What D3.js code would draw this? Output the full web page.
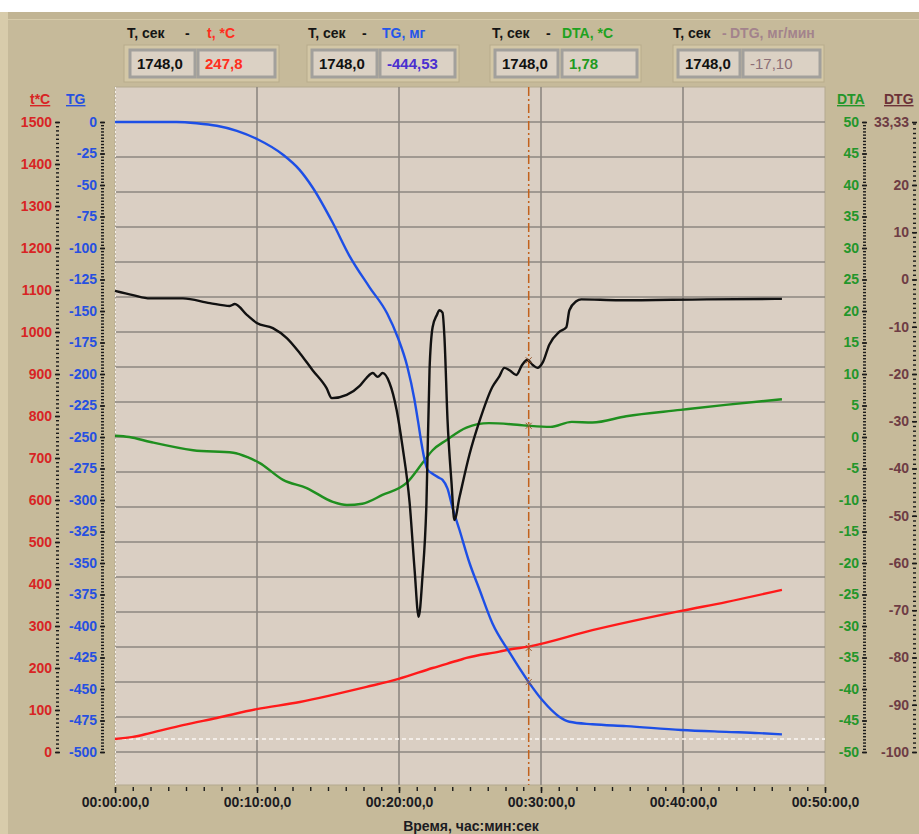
<!DOCTYPE html>
<html>
<head>
<meta charset="utf-8">
<script src="https://cdn.jsdelivr.net/npm/d3@7"></script>
<style>
	body { margin: 0; background: #fff; }
	svg text { font-family: "Liberation Sans", Arial, sans-serif; font-weight: bold; }
</style>
</head>
<body>
<div id="chart"></div>
<script>

// Time axis, seconds
var timeTicks = [0, 600, 1200, 1800, 2400, 3000];
var timeMinorStep = 75;

// Axis tick values
var tempTicks = [0, 100, 200, 300, 400, 500, 600, 700, 800, 900, 1000, 1100, 1200, 1300, 1400, 1500];
var tgTicks = [0, -25, -50, -75, -100, -125, -150, -175, -200, -225, -250, -275, -300, -325, -350, -375, -400, -425, -450, -475, -500];
var dtaTicks = [50, 45, 40, 35, 30, 25, 20, 15, 10, 5, 0, -5, -10, -15, -20, -25, -30, -35, -40, -45, -50];
var dtgTicks = [33.33, 20, 10, 0, -10, -20, -30, -40, -50, -60, -70, -80, -90, -100];

// Series: [time, value]
var tempData = [[0, 31], [76, 36], [148, 45], [287, 64], [430, 81], [599, 102], [781, 119], [920, 136],
	[1063, 155], [1198, 174], [1342, 200], [1456, 219], [1485, 224], [1624, 239], [1667, 244], [1748, 251],
	[2017, 290], [2392, 336], [2582, 357], [2818, 386]];

var tgData = [[0, 0], [260, 0], [345, -1], [430, -3], [515, -7], [600, -13.5], [710, -26], [780, -38],
	[835, -52], [920, -80], [990, -106], [1075, -131], [1150, -152], [1195, -171], [1235, -194], [1265, -220],
	[1280, -237], [1295, -255], [1308, -268], [1321, -276], [1337, -278.6], [1371, -282.5], [1384, -284],
	[1405, -291], [1426, -306], [1456, -324], [1498, -350], [1540, -371], [1595, -398], [1667, -421],
	[1748, -444.5], [1806, -459], [1877, -472], [1920, -476], [2017, -478], [2160, -479.5], [2392, -482.5],
	[2582, -484], [2721, -485], [2818, -486]];

var dtaData = [[0, 0.2], [60, 0], [150, -0.8], [330, -2.1], [500, -2.5], [560, -3.2], [610, -4.1], [710, -6.8],
	[810, -8.1], [920, -10.3], [980, -10.8], [1045, -10.6], [1130, -9.2], [1232, -7.3], [1300, -4.1], [1342, -2.1],
	[1400, -0.5], [1485, 1.5], [1580, 2.2], [1710, 1.9], [1748, 1.78], [1840, 1.6], [1930, 2.4], [2017, 2.3],
	[2160, 3.3], [2390, 4.3], [2580, 5.1], [2818, 6.0]];

var dtgData = [[0, -2.4], [76, -3.3], [148, -4.0], [287, -4.0], [401, -5.0], [485, -5.6], [506, -5.2], [557, -7.5],
	[599, -9.2], [667, -10.3], [726, -12.4], [781, -15.6], [835, -19.2], [894, -23.0], [916, -25.1], [979, -24.4],
	[1034, -22.5], [1063, -20.8], [1089, -19.8], [1110, -20.6], [1131, -19.8], [1160, -21.9], [1190, -27.6],
	[1215, -35.4], [1245, -47.3], [1266, -61.5], [1283, -71.4], [1299, -63.0], [1316, -47.3], [1329, -19.2],
	[1342, -10.1], [1360, -7.5], [1371, -6.5], [1384, -7.0], [1392, -12.2], [1405, -29.7], [1422, -43.1],
	[1434, -50.9], [1456, -46], [1498, -37], [1540, -30], [1595, -22.7], [1624, -20.5], [1645, -18.7],
	[1667, -19.2], [1696, -20.2], [1720, -18.1], [1743, -17.0], [1765, -18.1], [1785, -18.7], [1808, -17.5],
	[1835, -13.8], [1877, -11.1], [1907, -10.1], [1920, -6.5], [1949, -4.6], [1970, -4.2], [2131, -4.4],
	[2500, -4.2], [2818, -4.1]];

// Cursor readout
var cursorTime = 1748;
var readoutNames = ['t, *C', 'TG, мг', 'DTA, *C', 'DTG, мг/мин'];
var readoutValues = [247.8, -444.53, 1.78, -17.10];
var readoutDigits = [1, 2, 2, 2];
var baselineTemp = 31;


var W = 919, H = 834;
var plotL = 115, plotR = 825, plotT = 87, plotB = 785;
var axisT = 122, axisB = 752;

var loc = d3.formatLocale({decimal: ',', thousands: '', grouping: [3], currency: ['', ''], minus: '-'});

var svg = d3.select('#chart').append('svg')
	.attr('width', W).attr('height', H);

// Panel background
svg.append('rect').attr('x', 0).attr('y', 12).attr('width', W).attr('height', H - 12).attr('fill', '#c6ba9a');
svg.append('rect').attr('x', 0).attr('y', 12).attr('width', 8).attr('height', H - 12).attr('fill', '#d8ccab');
svg.append('rect').attr('x', 8).attr('y', 12).attr('width', W - 8).attr('height', 7).attr('fill', '#c1b493');
svg.append('line').attr('x1', 8).attr('x2', W).attr('y1', 19.5).attr('y2', 19.5).attr('stroke', '#d6caa9');

// Scales
var x = d3.scaleLinear().domain([0, 3000]).range([plotL, plotR]);
var yTemp = d3.scaleLinear().domain([0, 1500]).range([axisB, axisT]);
var yTG = d3.scaleLinear().domain([-500, 0]).range([axisB, axisT]);
var yDTA = d3.scaleLinear().domain([-50, 50]).range([axisB, axisT]);
var yDTG = d3.scaleLinear().domain([-100, 33.33]).range([axisB, axisT]);

// Plot area
svg.append('rect')
	.attr('x', plotL).attr('y', plotT)
	.attr('width', plotR - plotL).attr('height', plotB - plotT)
	.attr('fill', '#dacfc3').attr('stroke', '#b4a98f');

var grid = svg.append('g');

grid.selectAll('line.h')
	.data(d3.range(19).map((k) => -500 * k / 18))
	.enter().append('line')
	.attr('class', 'h')
	.attr('x1', plotL).attr('x2', plotR)
	.attr('y1', (d) => yTG(d)).attr('y2', (d) => yTG(d))
	.attr('stroke', '#8d8781').attr('stroke-width', 1.6);

grid.selectAll('line.v')
	.data(timeTicks.slice(1, -1))
	.enter().append('line')
	.attr('class', 'v')
	.attr('x1', (d) => x(d)).attr('x2', (d) => x(d))
	.attr('y1', plotT).attr('y2', plotB)
	.attr('stroke', '#8d8781').attr('stroke-width', 1.6);

// Left border dashes
svg.append('line')
	.attr('x1', plotL + 0.5).attr('x2', plotL + 0.5).attr('y1', plotT).attr('y2', plotB)
	.attr('stroke', '#f4f0ea').attr('stroke-dasharray', '2,2');

// Baseline reference
svg.append('line')
	.attr('x1', plotL).attr('x2', plotR)
	.attr('y1', yTemp(baselineTemp)).attr('y2', yTemp(baselineTemp))
	.attr('stroke', '#fbf8f3').attr('stroke-width', 1.5).attr('stroke-dasharray', '4,3');

// Cursor
svg.append('line')
	.attr('x1', x(cursorTime)).attr('x2', x(cursorTime))
	.attr('y1', plotT).attr('y2', plotB)
	.attr('stroke', '#c2621d').attr('stroke-width', 1.5)
	.attr('stroke-dasharray', '9,3,2,3');

// Curves
var series = [
	{data: tempData, y: yTemp, color: '#ff1a1a'},
	{data: dtaData, y: yDTA, color: '#1f8f1f'},
	{data: tgData, y: yTG, color: '#1d4fe6'},
	{data: dtgData, y: yDTG, color: '#111111'}
];

series.forEach((s) => {
	var line = d3.line()
		.x((d) => x(d[0]))
		.y((d) => s.y(d[1]))
		.curve(d3.curveMonotoneX);

	svg.append('path')
		.datum(s.data)
		.attr('d', line)
		.attr('fill', 'none')
		.attr('stroke', s.color)
		.attr('stroke-width', 2.4)
		.attr('stroke-linejoin', 'round');
});

// Cursor markers
var markerScales = [yTemp, yTG, yDTA, yDTG];
svg.selectAll('path.mark')
	.data(readoutValues)
	.enter().append('path')
	.attr('class', 'mark')
	.attr('d', (d, i) => {
		var cx = x(cursorTime), cy = markerScales[i](d);
		return 'M' + (cx - 3) + ',' + (cy - 3) + 'L' + (cx + 3) + ',' + (cy + 3) +
			'M' + (cx - 3) + ',' + (cy + 3) + 'L' + (cx + 3) + ',' + (cy - 3);
	})
	.attr('stroke', '#9a5a30').attr('stroke-width', 1);


// Y axes
function yAxis(scale, ticks, minor, xPos, color, fmt) {

	var g = svg.append('g').attr('transform', 'translate(' + xPos + ',0)');
	g.call(d3.axisLeft(scale).tickValues(ticks).tickSize(5).tickPadding(3).tickFormat(fmt));
	g.select('.domain').remove();
	g.selectAll('line').attr('stroke', '#1a1a1a').attr('stroke-width', 1.6);
	g.selectAll('text').attr('fill', color).style('font-size', '14px');

	var m = svg.append('g').attr('transform', 'translate(' + (xPos - 1) + ',0)');
	m.call(d3.axisLeft(scale).tickValues(minor).tickSize(3).tickFormat(''));
	m.select('.domain').remove();
	m.selectAll('line').attr('stroke', '#1a1a1a').attr('stroke-width', 1.4);
}

var fmtInt = loc.format('d');

yAxis(yTemp, tempTicks, d3.range(0, 1501, 10), 60, '#d82424', fmtInt);
yAxis(yTG, tgTicks, d3.range(-500, 0.1, 2.5), 105, '#2650e0', fmtInt);
yAxis(yDTA, dtaTicks, d3.range(-50, 50.1, 0.5), 867, '#23962a', fmtInt);
yAxis(yDTG, dtgTicks, d3.range(-100, 33.4, 1), 917, '#6e3c44',
	(d) => Number.isInteger(d) ? fmtInt(d) : loc.format('.2f')(d));

// Axis titles
var axisTitles = [
	{text: 't*C', x: 30, color: '#d82424'},
	{text: 'TG', x: 66, color: '#2650e0'},
	{text: 'DTA', x: 837, color: '#23962a'},
	{text: 'DTG', x: 884, color: '#6b3238'}
];

svg.selectAll('text.atitle')
	.data(axisTitles)
	.enter().append('text')
	.attr('class', 'atitle')
	.attr('x', (d) => d.x).attr('y', 104)
	.attr('fill', (d) => d.color)
	.style('font-size', '14px')
	.style('text-decoration', 'underline')
	.text((d) => d.text);


// X axis
function pad(n) { return (n < 10 ? '0' : '') + n; }

function fmtTime(s) {
	return pad(Math.floor(s / 3600)) + ':' + pad(Math.floor(s % 3600 / 60)) + ':' + pad(s % 60) + ',0';
}

var xg = svg.append('g').attr('transform', 'translate(0,' + (plotB + 2) + ')');
xg.call(d3.axisBottom(x).tickValues(timeTicks).tickSize(6).tickPadding(4).tickFormat(fmtTime));
xg.select('.domain').remove();
xg.selectAll('line').attr('stroke', '#1a1a1a').attr('stroke-width', 1.5);
xg.selectAll('text').attr('fill', '#1b1b22').style('font-size', '14px');

var xm = svg.append('g').attr('transform', 'translate(0,' + (plotB + 2) + ')');
xm.call(d3.axisBottom(x).tickValues(d3.range(0, 3001, timeMinorStep)).tickSize(4).tickFormat(''));
xm.select('.domain').remove();
xm.selectAll('line').attr('stroke', '#1a1a1a').attr('stroke-width', 1.4);

svg.append('text')
	.attr('x', 471).attr('y', 831)
	.attr('text-anchor', 'middle')
	.attr('fill', '#1b1b22')
	.style('font-size', '14px')
	.text('Время, час:мин:сек');


// Header readouts
var readoutColors = ['#ff2e1e', '#2456ea', '#1fa21f', '#a3838c'];
var valueColors = ['#ff2e1e', '#4a2fd0', '#1f9a1f', '#8c6e76'];
var groups = [
	{fx: 124, tx: 127, dx: 185, nx: 207, b1: [130, 195], b2: [198, 275]},
	{fx: 307, tx: 308, dx: 362, nx: 382, b1: [312, 377], b2: [380, 455]},
	{fx: 490, tx: 492, dx: 546, nx: 562, b1: [495, 558], b2: [562, 637]},
	{fx: 673, tx: 673, dx: 722, nx: 730, b1: [678, 740], b2: [743, 820]}
];

groups.forEach((g, i) => {

	var h = svg.append('g');

	h.append('text').attr('x', g.tx).attr('y', 38).attr('fill', '#151515')
		.style('font-size', '14px').text('Т, сек');
	h.append('text').attr('x', g.dx).attr('y', 38)
		.attr('fill', i == 3 ? readoutColors[i] : '#151515')
		.style('font-size', '14px').text('-');
	h.append('text').attr('x', g.nx).attr('y', 38).attr('fill', readoutColors[i])
		.style('font-size', '14px').text(readoutNames[i]);

	h.append('rect').attr('x', g.fx).attr('y', 45).attr('width', g.b2[1] - g.fx + 4).attr('height', 37)
		.attr('fill', '#d3c7a6').attr('stroke', '#b8ac8b');

	[g.b1, g.b2].forEach((b) => {
		h.append('rect').attr('x', b[0]).attr('y', 50).attr('width', b[1] - b[0]).attr('height', 27)
			.attr('fill', '#dbd1c4').attr('stroke', '#a2a09c').attr('stroke-width', 3);
	});

	h.append('text').attr('x', g.b1[0] + 7).attr('y', 69).attr('fill', '#111')
		.style('font-size', '15px').text(loc.format('.1f')(cursorTime));
	h.append('text').attr('x', g.b2[0] + 7).attr('y', 69).attr('fill', valueColors[i])
		.style('font-size', '15px')
		.style('font-weight', i == 3 ? 'normal' : 'bold')
		.text(loc.format('.' + readoutDigits[i] + 'f')(readoutValues[i]));
});

</script>
</body>
</html>
